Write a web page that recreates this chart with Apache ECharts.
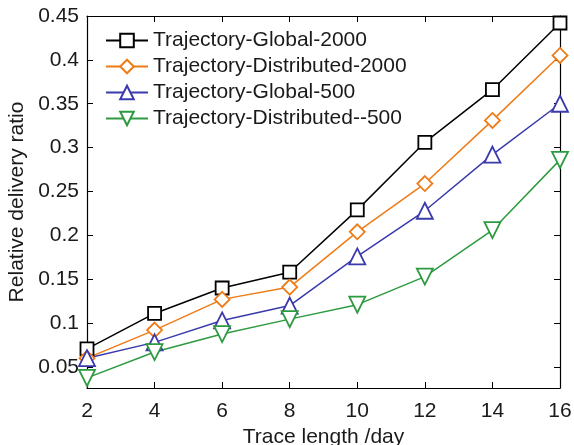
<!DOCTYPE html>
<html>
<head>
<meta charset="utf-8">
<script src="https://cdn.jsdelivr.net/npm/echarts@6/dist/echarts.min.js"></script>
<style>html,body{margin:0;padding:0;background:#fff;}#c{width:574px;height:445px;}</style>
</head>
<body>
<div id="c"></div>
<script>
var xValues = [2, 4, 6, 8, 10, 12, 14, 16];
var globalTwoK = [0.0705, 0.111, 0.140, 0.158, 0.229, 0.306, 0.366, 0.442];
var distTwoK = [0.060, 0.092, 0.127, 0.141, 0.204, 0.259, 0.331, 0.405];
var globalFiveH = [0.060, 0.078, 0.103, 0.120, 0.176, 0.228, 0.292, 0.350];
var distFiveH = [0.0375, 0.067, 0.0875, 0.1045, 0.121, 0.153, 0.206, 0.286];
var yTicks = [0.05, 0.1, 0.15, 0.2, 0.25, 0.3, 0.35, 0.4, 0.45];
var xTicks = [2, 4, 6, 8, 10, 12, 14, 16];
var names = ['Trajectory-Global-2000', 'Trajectory-Distributed-2000', 'Trajectory-Global-500', 'Trajectory-Distributed--500'];

function pairs(ys) { return xValues.map(function (x, i) { return [x, ys[i]]; }); }
var FONT = 'Liberation Sans';
var txt = '#1a1a1a';
var FS = 21;

function mk(name, ys, color, symbol, size, rot) {
  return {
    name: name, type: 'line', data: pairs(ys),
    symbol: symbol, symbolSize: size, symbolRotate: rot || 0,
    showAllSymbol: true,
    lineStyle: { color: color, width: 1.5 },
    itemStyle: { color: '#fff', borderColor: color, borderWidth: 1.8 },
    emphasis: { disabled: true },
    animation: false
  };
}

var chart = echarts.init(document.getElementById('c'), null, { renderer: 'canvas' });
chart.setOption({
  animation: false,
  grid: { left: 87, right: 14, top: 16, bottom: 57, containLabel: false, outerBoundsMode: 'none' },
  legend: {
    orient: 'vertical', left: 100, top: 25,
    itemWidth: 42, itemHeight: 17, itemGap: 5,
    textStyle: { fontFamily: FONT, fontSize: FS, color: txt },
    data: names
  },
  xAxis: [{
    type: 'value', min: 2, max: 16, interval: 2,
    name: 'Trace length /day', nameLocation: 'middle', nameGap: 31,
    nameTextStyle: { fontFamily: FONT, fontSize: FS, color: txt },
    axisLine: { lineStyle: { color: '#000', width: 1.2 } },
    axisTick: { inside: true, length: 6, lineStyle: { color: '#000' } },
    axisLabel: { fontFamily: FONT, fontSize: FS, color: txt, margin: 13 },
    splitLine: { show: false }
  }, {
    type: 'value', position: 'top', min: 2, max: 16, interval: 2,
    axisLine: { show: true, lineStyle: { color: '#000', width: 1.2 } },
    axisTick: { show: true, inside: true, length: 6, lineStyle: { color: '#000' } },
    axisLabel: { show: false }, splitLine: { show: false }
  }],
  yAxis: [{
    type: 'value', min: 0.026, max: 0.45,
    name: 'Relative delivery ratio', nameLocation: 'middle', nameGap: 57,
    nameTextStyle: { fontFamily: FONT, fontSize: FS, color: txt },
    axisLine: { show: true, lineStyle: { color: '#000', width: 1.2 } },
    axisTick: { show: true, inside: true, length: 6, customValues: yTicks, lineStyle: { color: '#000' } },
    axisLabel: { fontFamily: FONT, fontSize: FS, color: txt, margin: 8, customValues: yTicks,
      formatter: function (v) { return String(Math.round(v * 100) / 100); } },
    splitLine: { show: false }
  }, {
    type: 'value', position: 'right', min: 0.026, max: 0.45,
    axisLine: { show: true, lineStyle: { color: '#000', width: 1.2 } },
    axisTick: { show: true, inside: true, length: 6, customValues: yTicks, lineStyle: { color: '#000' } },
    axisLabel: { show: false, customValues: yTicks }, splitLine: { show: false }
  }],
  series: [
    mk(names[0], globalTwoK, '#000000', 'rect', 13),
    mk(names[1], distTwoK, '#ef7b16', 'diamond', 15),
    mk(names[2], globalFiveH, '#3a3aac', 'triangle', 16),
    mk(names[3], distFiveH, '#2e9a40', 'triangle', 16, 180)
  ]
});
</script>
</body>
</html>
